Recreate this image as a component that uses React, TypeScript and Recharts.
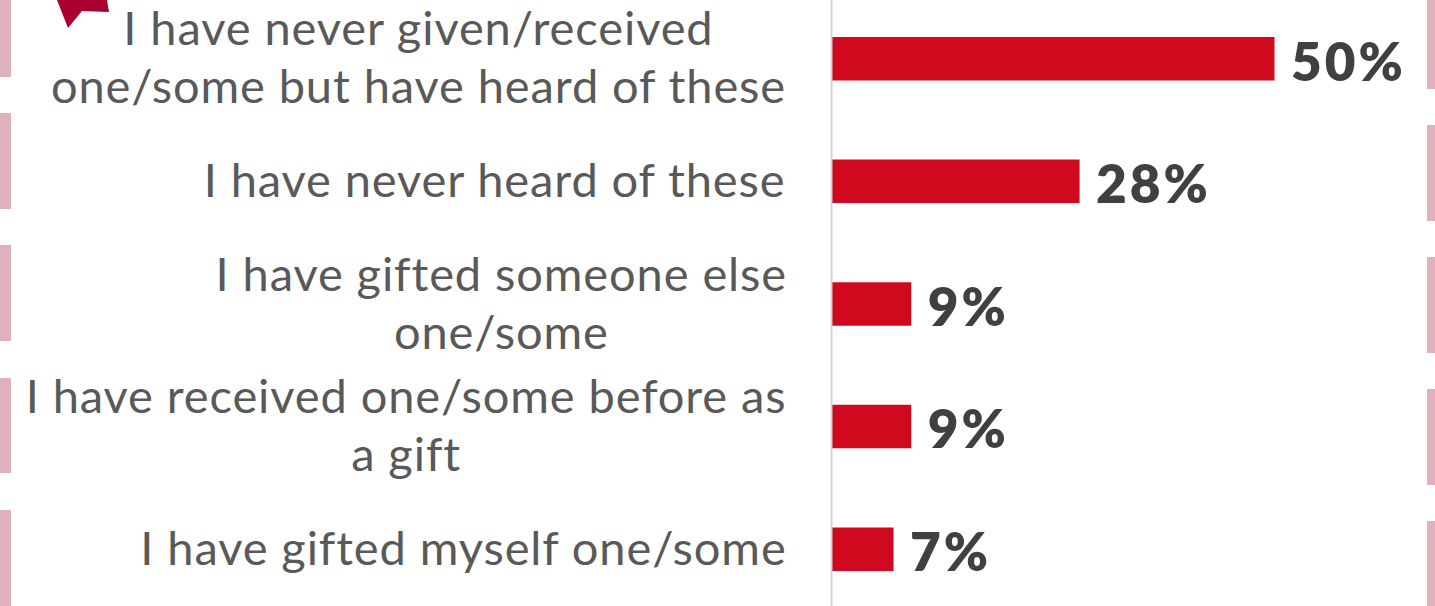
import { Bar, BarChart, LabelList, XAxis, YAxis } from 'recharts';

const categories = [
  'I have never given/received|one/some but have heard of these',
  'I have never heard of these',
  'I have gifted someone else|one/some',
  'I have received one/some before as|a gift',
  'I have gifted myself one/some',
];
const shares = [50, 28, 9, 9, 7];

// side trim stripes as [top, height]
const leftStripes = [[-19, 96], [113, 96], [245, 96], [378, 95], [510, 96]];
const rightStripes = [[-7, 96], [125, 96], [257, 96], [389, 96], [521, 96]];

const data = categories.map((name, i) => ({ name, share: shares[i] }));

const LABEL_FONT = 'Lato, sans-serif';
const LABEL_SIZE = 47;
const LABEL_SPACING = 0.9;
const LABEL_RIGHT = 786.5;
const LINE_GAP = 58;

const textWidth = (text: string) => {
  const ctx = document.createElement('canvas').getContext('2d');
  if (!ctx) return 0;
  ctx.font = `${LABEL_SIZE}px Lato`;
  return ctx.measureText(text).width + text.length * LABEL_SPACING;
};

// lines are centred on each other, the block sits flush right
const CategoryTick = ({ y, payload }: any) => {
  const lines: string[] = payload.value.split('|');
  const widest = Math.max(...lines.map(textWidth));
  const centre = LABEL_RIGHT - widest / 2;
  return (
    <text
      fill="#595959"
      fontFamily={LABEL_FONT}
      fontSize={LABEL_SIZE}
      letterSpacing={LABEL_SPACING}
      textAnchor="middle"
      x={centre}
      y={y - ((lines.length - 1) * LINE_GAP) / 2 + 16}
    >
      {lines.map((line, i) => (
        <tspan dy={i === 0 ? 0 : LINE_GAP} key={line} x={centre}>
          {line}
        </tspan>
      ))}
    </text>
  );
};

const Stripe = ({ left, top, height, width }: any) => (
  <div
    style={{
      background: '#e0b0bc',
      height,
      left,
      position: 'absolute',
      top,
      width,
    }}
  />
);

export default function App() {
  return (
    <div
      style={{
        background: '#fff',
        height: 606,
        left: 0,
        overflow: 'hidden',
        position: 'absolute',
        top: 0,
        width: 1435,
      }}
    >
      {leftStripes.map(([top, height]) => (
        <Stripe height={height} key={top} left={0} top={top} width={11} />
      ))}
      {rightStripes.map(([top, height]) => (
        <Stripe height={height} key={top} left={1427} top={top} width={8} />
      ))}
      <svg
        height={30}
        style={{ left: 0, position: 'absolute', top: 0 }}
        width={120}
      >
        <polygon fill="#a8002f" points="57,0 107,0 109,12 82,11 68,28" />
      </svg>
      <div style={{ left: 0, position: 'absolute', top: -3 }}>
        <BarChart
          barSize={43.5}
          data={data}
          height={613}
          layout="vertical"
          margin={{ bottom: 0, left: 0, right: 160.5, top: 0 }}
          width={1435}
        >
          <XAxis domain={[0, 50]} hide type="number" />
          <YAxis
            axisLine={{ stroke: '#d2d2d2', strokeWidth: 2 }}
            dataKey="name"
            interval={0}
            tick={<CategoryTick />}
            tickLine={false}
            type="category"
            width={831.5}
          />
          <Bar dataKey="share" fill="#d0091f" isAnimationActive={false}>
            <LabelList
              dataKey="share"
              dy={3}
              fill="#404040"
              fontFamily={LABEL_FONT}
              fontSize={53}
              fontWeight={800}
              formatter={(v: any) => `${v}%`}
              letterSpacing={3}
              offset={16.5}
              position="right"
            />
          </Bar>
        </BarChart>
      </div>
    </div>
  );
}
